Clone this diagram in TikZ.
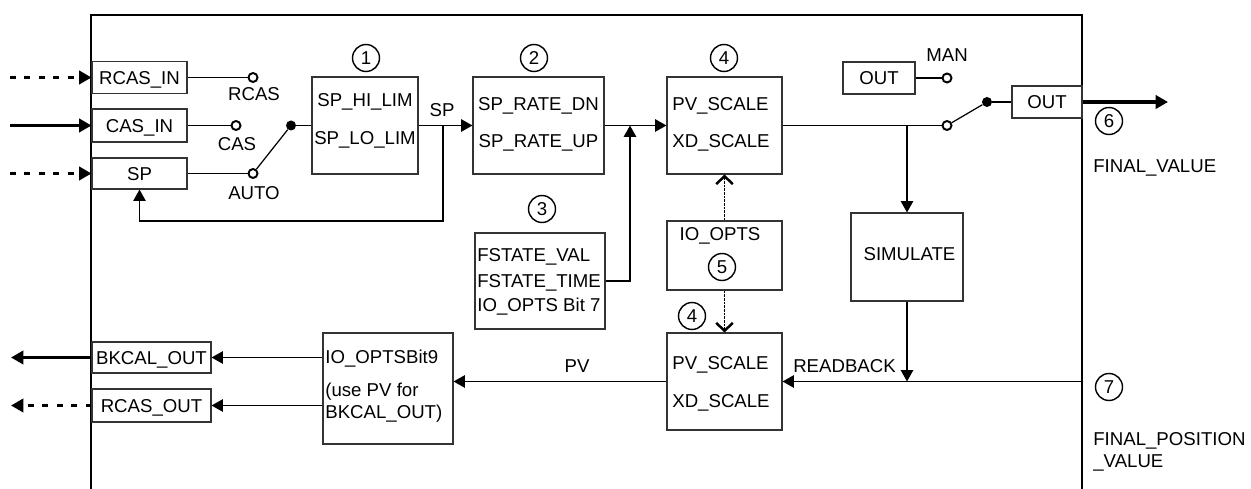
\documentclass[tikz,border=0pt]{standalone}
\usepackage{fontspec}
\setmainfont{Liberation Sans}
\usetikzlibrary{arrows.meta}
\begin{document}
\begin{tikzpicture}[x=0.02cm,y=-0.02cm,
  font=\fontsize{10.6}{12.7}\selectfont,
  tri/.tip={Triangle[length=6.5pt,width=7pt]},
  box/.style={draw=black!80, line width=0.6pt, inner sep=0pt, text height=7.6pt, text depth=0pt},
  lbl/.style={inner sep=0pt, text height=7.6pt, text depth=0pt},
  lbw/.style={lbl, anchor=west},
  num/.style={circle, draw, line width=0.8pt, minimum size=0.54cm, inner sep=0pt, text height=7.6pt, text depth=0pt},
  oc/.style={circle, draw, line width=1.1pt, fill=white, minimum size=0.18cm, inner sep=0pt},
  fc/.style={circle, fill, minimum size=0.2cm, inner sep=0pt},
  ln/.style={line width=1.1pt},
  sw/.style={line width=0.7pt},
  ext/.style={line width=1.8pt, -{Triangle[length=7pt,width=7.5pt]}},
  extd/.style={ext, dash pattern=on 3.4pt off 4.8pt},
  dsh/.style={line width=1pt, dash pattern=on 1.5pt off 0.6pt, -{Straight Barb[length=4.5pt,width=9.5pt,line width=1.4pt]}},
  frame/.style={line width=1.3pt}
]
\useasboundingbox (0,0) rectangle (1251,489);
% frame
\draw[frame] (91,489) -- (91,15) -- (1082,15) -- (1082,489);

% left input boxes
\node[box, minimum width=1.9cm, minimum height=0.64cm] (rcasin) at (139.5,77.5) {RCAS\_IN};
\node[box, minimum width=1.9cm, minimum height=0.66cm] (casin) at (139.5,125.5) {CAS\_IN};
\node[box, minimum width=1.9cm, minimum height=0.62cm] (spin) at (139.5,173.5) {SP};
\coordinate (i1) at (10,77.5);
\coordinate (i2) at (10,125.5);
\coordinate (i3) at (10,173.5);
\draw[extd] (i1) -- (rcasin.west);
\draw[ext] (i2) -- (casin.west);
\draw[extd] (i3) -- (spin.west);

% mode switch
\node[oc] (crcas) at (253,77.5) {};
\node[lbl] (lrcas) at (254,94) {RCAS};
\node[oc] (ccas) at (236,125.5) {};
\node[lbl] (lcas) at (237,144) {CAS};
\node[oc] (cauto) at (253,173.5) {};
\node[lbl] (lauto) at (254,193) {AUTO};
\node[fc] (d1) at (291,125.5) {};
\draw[ln] (rcasin.east) -- (crcas.west);
\draw[ln] (casin.east) -- (ccas.west);
\draw[ln] (spin.east) -- (cauto.west);
\draw[sw] (cauto) -- (d1);

% box 1
\node[box, minimum width=2.12cm, minimum height=1.94cm] (lim) at (365,125.5) {};
\node[lbl] (t1a) at (365,100) {SP\_HI\_LIM};
\node[lbl] (t1b) at (365,138) {SP\_LO\_LIM};
\node[num] (n1) at (366,58) {1};
\draw[ln] (d1) -- (lim.west);

% box 2
\node[box, minimum width=2.62cm, minimum height=1.94cm] (rate) at (538.5,125.5) {};
\node[lbl] (t2a) at (538.5,104) {SP\_RATE\_DN};
\node[lbl] (t2b) at (538.5,141) {SP\_RATE\_UP};
\node[num] (n2) at (534,58) {2};
\draw[ln,-tri] (lim.east) -- (rate.west);
\node[lbl] (lsp) at (442,110) {SP};
\coordinate (fb0) at (443,125.5);
\coordinate (fb1) at (443,221);
\draw[line width=0.9pt,-tri] (fb0) -- (fb1) -| (spin.south);

% box 3
\node[box, minimum width=2.6cm, minimum height=1.92cm] (fstate) at (540,281) {};
\node[lbw] (t3a) at (477,254.5) {FSTATE\_VAL};
\node[lbw] (t3b) at (477,280.5) {FSTATE\_TIME};
\node[lbw] (t3c) at (477,304.5) {IO\_OPTS Bit 7};
\node[num] (n3) at (542,209) {3};
\coordinate (j1) at (630,125.5);
\coordinate (f1) at (630,281);
\draw[ln,-tri] (fstate.east) -- (f1) -- (j1);

% scale box top
\node[box, minimum width=2.3cm, minimum height=1.94cm] (scale1) at (724.5,125.5) {};
\node[lbw] (t4a) at (672,104) {PV\_SCALE};
\node[lbw] (t4b) at (672,141) {XD\_SCALE};
\node[num] (n4) at (724,58) {4};
\draw[ln,-tri] (rate.east) -- (scale1.west);

% IO_OPTS box
\node[box, minimum width=2.3cm, minimum height=1.38cm] (io) at (724.5,255.5) {};
\node[lbl] (t5) at (720,234) {IO\_OPTS};
\node[num] (n5) at (722,267) {5};

% scale box bottom
\node[box, minimum width=2.3cm, minimum height=1.94cm] (scale2) at (724.5,381.5) {};
\node[lbw] (t6a) at (672,363) {PV\_SCALE};
\node[lbw] (t6b) at (672,401) {XD\_SCALE};
\node[num] (n4b) at (692,316) {4};
\draw[dsh] (io.north) -- (scale1.south);
\draw[dsh] (io.south) -- (scale2.north);

% bit9 box
\node[box, minimum width=2.6cm, minimum height=2.22cm] (bit9) at (388,388.5) {};
\node[lbw] (t7a) at (325,357) {IO\_OPTSBit9};
\node[lbw] (t7b) at (325,390) {(use PV for};
\node[lbw] (t7c) at (325,412) {BKCAL\_OUT)};

% output boxes left
\node[box, minimum width=2.38cm, minimum height=0.62cm] (bkcal) at (151.5,357.5) {BKCAL\_OUT};
\node[box, minimum width=2.38cm, minimum height=0.66cm] (rcasout) at (151.5,405.5) {RCAS\_OUT};
\draw[ln,-tri] (bit9.west |- bkcal) -- (bkcal.east);
\draw[ln,-tri] (bit9.west |- rcasout) -- (rcasout.east);
\coordinate (o1) at (11,357.5);
\coordinate (o2) at (11,405.5);
\draw[ext] (bkcal.west) -- (o1);
\draw[extd] (rcasout.west) -- (o2);

% PV and READBACK
\draw[ln,-tri] (scale2.west) -- (bit9.east |- scale2.west);
\node[lbl] (lpv) at (577,366) {PV};
\coordinate (rb) at (1082,381.5);
\draw[ln,-tri] (rb) -- (scale2.east);
\node[lbl] (lrb) at (844.5,366) {READBACK};

% simulate
\node[box, minimum width=2.24cm, minimum height=1.76cm] (sim) at (907,257) {};
\node[lbl] (tsim) at (909.5,254) {SIMULATE};
\coordinate (j2) at (907,125.5);
\coordinate (j3) at (907,381.5);
\draw[ln,-tri] (j2) -- (sim.north);
\draw[ln,-tri] (sim.south) -- (j3);

% output switch
\node[oc] (cout) at (947,125.5) {};
\draw[ln] (scale1.east) -- (cout.west);
\node[fc] (d2) at (987,102) {};
\draw[sw] (cout) -- (d2);
\node[box, minimum width=1.4cm, minimum height=0.64cm] (outbox) at (1047,102) {OUT};
\draw[ln] (d2) -- (outbox.west);
\node[box, minimum width=1.44cm, minimum height=0.64cm] (manbox) at (879,78) {OUT};
\node[oc] (cman) at (947,78) {};
\draw[ln] (manbox.east) -- (cman.west);
\node[lbl] (lman) at (947,55) {MAN};
\coordinate (o3) at (1168,102);
\draw[ext] (outbox.east) -- (o3);

% right labels
\node[num] (n6) at (1109,121) {6};
\node[lbw] (lfv) at (1093,166) {FINAL\_VALUE};
\node[num] (n7) at (1109,387) {7};
\node[lbw] (lfp1) at (1093,439) {FINAL\_POSITION};
\node[lbw] (lfp2) at (1093,461) {\_VALUE};
\end{tikzpicture}
\end{document}
